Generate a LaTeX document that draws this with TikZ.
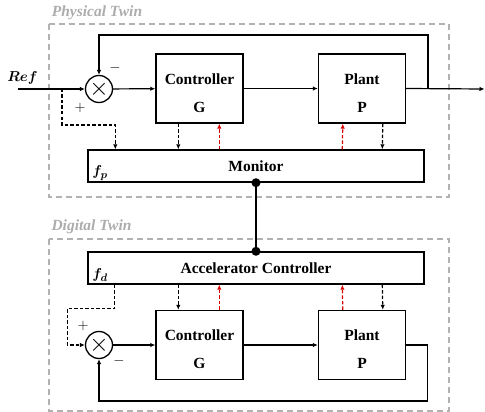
\documentclass[tikz,border=0pt]{standalone}
\usepackage{fontspec}
\setmainfont{Liberation Serif}
\usepackage{bm}
\usetikzlibrary{arrows.meta,calc}
\tikzset{blk/.style={draw,line width=1.4pt,minimum width=87pt,minimum height=69pt,inner sep=0},
bar/.style={draw,line width=1.4pt,minimum width=336pt,minimum height=32pt,inner sep=0,font=\fontsize{15.5}{18}\selectfont\bfseries},
sum/.style={draw,circle,line width=1.3pt,minimum size=27pt,inner sep=0,font=\fontsize{24}{24}\selectfont},
twin/.style={draw=gray!60,dash pattern=on 6pt off 4pt,line width=1.2pt},
tw/.style={font=\fontsize{15.5}{18}\selectfont\bfseries\itshape,text=gray!65,inner sep=0},
txt/.style={font=\fontsize{15.5}{28}\selectfont\bfseries,align=center,inner sep=0},
mth/.style={font=\fontsize{15}{18}\selectfont,inner sep=0},
sig/.style={line width=1.2pt,-{Latex[length=5pt,width=4.5pt]}},
dsig/.style={sig,dash pattern=on 3.5pt off 2pt},
rsig/.style={dsig,draw=red!85!black}}
\begin{document}
\begin{tikzpicture}[x=1pt,y=-1pt]
\useasboundingbox(0,0)rectangle(485,412);
\draw[twin](49,24)rectangle(449,197);\node[tw](ptw)at(97,13){Physical Twin};
\node[sum](sp)at(99,89){$\times$};\node[blk](gp)at(199.5,88.5){};\node[txt](gpt)at(199.5,93){Controller\\G};
\node[blk](pp)at(362,88.5){};\node[txt](ppt)at(362,93){Plant\\P};
\node[bar](mon)at(256,166){Monitor};\node[mth](fp)at(100,173){$\bm{f_p}$};
\coordinate(ref)at(18,89);\node[mth](reft)at(22.5,78){$\bm{Ref}$};\coordinate(br)at(62,89);\coordinate(out)at(428,89);\coordinate(yo)at(484.5,89);
\node[mth](pl1)at(80,108){$+$};\node[mth](mi1)at(115,68){$-$};
\draw[sig](ref)--(sp.west);\draw[sig](sp)--(gp);\draw[sig](gp)--(pp);\draw[sig](pp.east)--(yo);\draw[sig](out)--++(0,-54)-|(sp.north);
\draw[dsig](br)--++(0,36)-|($(mon.north west)+(28,0)$);
\draw[dsig]($(gp.south west)+(23,0)$)--($(mon.north west)+(91,0)$);\draw[rsig]($(mon.north west)+(132,0)$)--($(gp.south west)+(64,0)$);
\draw[rsig]($(mon.north west)+(255,0)$)--($(pp.south west)+(25,0)$);\draw[dsig]($(pp.south west)+(65,0)$)--($(mon.north west)+(295,0)$);
\draw[twin](49,239)rectangle(449,411);\node[tw](dtw)at(91.5,227){Digital Twin};
\node[bar](acc)at(256,268){Accelerator Controller};\node[mth](fd)at(100,275){$\bm{f_d}$};
\draw[line width=2.8pt](mon.south)--(acc.north);\fill(mon.south)circle(4.5pt);\fill(acc.north)circle(4.5pt);
\node[sum](sd)at(99,345){$\times$};\node[blk](gd)at(199.5,345){};\node[txt](gdt)at(199.5,349.5){Controller\\G};
\node[blk](pd)at(362,345){};\node[txt](pdt)at(362,349.5){Plant\\P};
\node[mth](pl2)at(83,326){$+$};\node[mth](mi2)at(119,361){$-$};
\draw[sig](sd)--(gd);\draw[sig](gd)--(pd);\draw[sig](pd.east)--++(21,0)--++(0,56)-|(sd.south);
\draw[dsig]($(acc.south west)+(27,0)$)--++(0,24)-|($(sd.west)+(-17.5,0)$)--(sd.west);
\draw[dsig]($(acc.south west)+(91,0)$)--($(gd.north west)+(23,0)$);\draw[rsig]($(gd.north west)+(64,0)$)--($(acc.south west)+(132,0)$);
\draw[rsig]($(pd.north west)+(25,0)$)--($(acc.south west)+(255,0)$);\draw[dsig]($(acc.south west)+(295,0)$)--($(pd.north west)+(65,0)$);
\end{tikzpicture}
\end{document}
